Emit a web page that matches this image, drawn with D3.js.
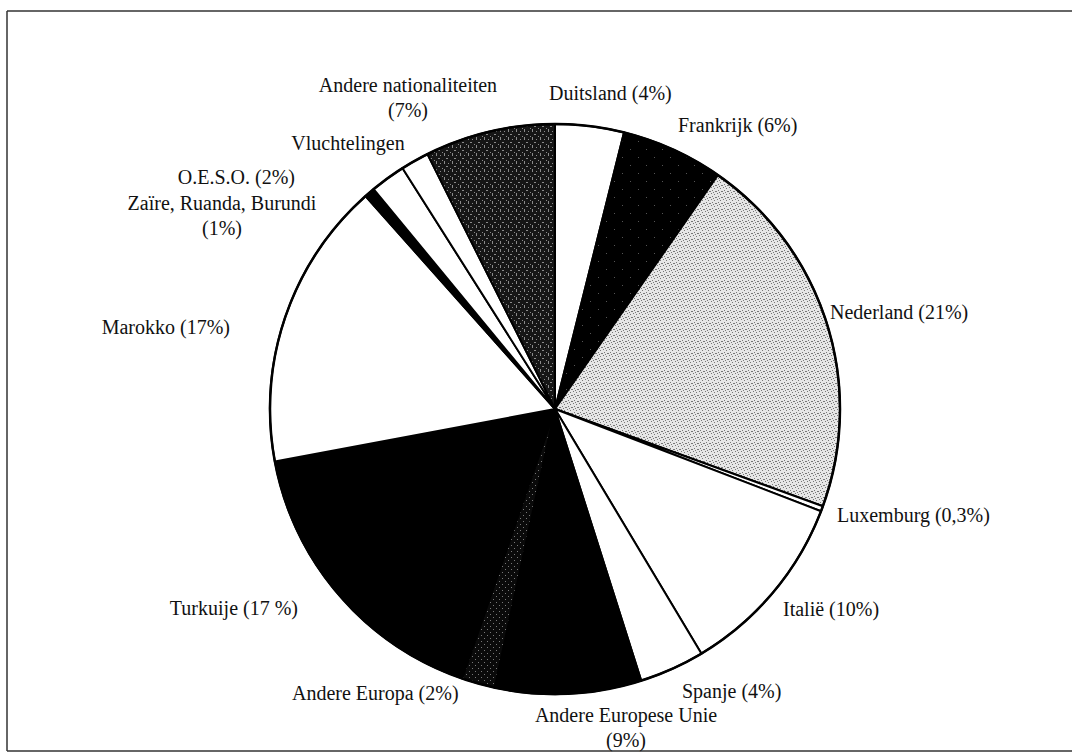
<!DOCTYPE html>
<html lang="nl">
<head>
<meta charset="utf-8">
<title>Nationaliteiten</title>
<style>
  body { margin: 0; background: #fff; }
  text { font-family: "Liberation Serif", "Times New Roman", serif; font-size: 20px; fill: #111; }
</style>
</head>
<body>
<div id="chart"></div>
<script src="https://cdn.jsdelivr.net/npm/d3@7"></script>
<script>

// slices, clockwise from 12 o'clock (shares, in %)
var categories = ["Duitsland", "Frankrijk", "Nederland", "Luxemburg", "Italië", "Spanje",
  "Andere Europese Unie", "Andere Europa", "Turkuije", "Marokko",
  "Zaïre, Ruanda, Burundi", "O.E.S.O.", "Vluchtelingen", "Andere nationaliteiten"];
var shares = [3.9, 5.8, 20.9, 0.3, 10.6, 3.7, 8.3, 1.9, 16.8, 16.4, 0.6, 2.0, 1.6, 7.4];
var fills = ["white", "frank", "ned", "white", "white", "white",
  "black", "aeur", "black", "white", "black", "white", "white", "anat"];

// label text, one entry per line
var labelLines = [
  ["Duitsland (4%)"], ["Frankrijk (6%)"], ["Nederland (21%)"], ["Luxemburg (0,3%)"],
  ["Italië (10%)"], ["Spanje (4%)"], ["Andere Europese Unie", "(9%)"], ["Andere Europa (2%)"],
  ["Turkuije (17 %)"], ["Marokko (17%)"], ["Zaïre, Ruanda, Burundi", "(1%)"],
  ["O.E.S.O. (2%)"], ["Vluchtelingen"], ["Andere nationaliteiten", "(7%)"]
];

var width = 1072, height = 755;
var cx = 555, cy = 409, radius = 285;

var svg = d3.select("#chart")
  .append("svg")
    .attr("width", width)
    .attr("height", height);

// textures like the scanned print
var defs = svg.append("defs");
function pattern(id, bg, dot, size, dots) {
  var p = defs.append("pattern")
    .attr("id", id)
    .attr("patternUnits", "userSpaceOnUse")
    .attr("width", size).attr("height", size);
  p.append("rect").attr("width", size).attr("height", size).attr("fill", bg);
  dots.forEach(function(d) {
    p.append("rect").attr("x", d[0]).attr("y", d[1])
      .attr("width", d[2] || 1).attr("height", d[3] || 1).attr("fill", dot);
  });
}
pattern("ned", "#e6e6e6", "#777", 6, [[0,0],[3,1],[1,3],[4,4,2,1],[2,5]]);
pattern("anat", "#161616", "#8a8a8a", 8, [[1,0,1,3],[5,2],[3,5,2,1],[7,7]]);
pattern("frank", "#000", "#555", 16, [[3,4],[11,12]]);
pattern("aeur", "#0a0a0a", "#777", 6, [[1,1],[4,4]]);

function fillOf(f) {
  return (f == "white" || f == "black") ? f : "url(#" + f + ")";
}

// frame
var frame = svg.append("g")
  .attr("stroke", "#333")
  .attr("stroke-width", 1.5);
frame.append("line").attr("x1", 7).attr("y1", 11).attr("x2", width).attr("y2", 11);
frame.append("line").attr("x1", 7).attr("y1", 11).attr("x2", 7).attr("y2", 751);
frame.append("line").attr("x1", 7).attr("y1", 751).attr("x2", width).attr("y2", 751);

var pie = d3.pie().sort(null).value(function(d) { return d; });
var arcs = pie(shares);

var arc = d3.arc().innerRadius(0).outerRadius(radius);

var g = svg.append("g")
  .attr("transform", "translate(" + cx + "," + cy + ")");

g.selectAll("path.slice")
  .data(arcs)
  .enter().append("path")
    .attr("class", "slice")
    .attr("d", arc)
    .attr("fill", function(d, i) { return fillOf(fills[i]); })
    .attr("stroke", "#000")
    .attr("stroke-width", 2)
    .attr("stroke-linejoin", "round");

g.append("circle")
  .attr("r", radius)
  .attr("fill", "none")
  .attr("stroke", "#000")
  .attr("stroke-width", 2.5);

// label anchors: [x, baseline, text-anchor] as placed in the original
var labelPos = [
  [549, 100, "start"], [678, 132, "start"], [830, 319, "start"], [837, 522, "start"],
  [783, 616, "start"], [682, 698, "start"], [626, 722, "middle"], [292, 700, "start"],
  [298, 615, "end"], [230, 334, "end"], [222, 210, "middle"], [295, 184, "end"],
  [348, 150, "middle"], [408, 92, "middle"]
];

var labels = svg.append("g");
labelLines.forEach(function(lines, i) {
  var p = labelPos[i];
  var t = labels.append("text")
    .attr("x", p[0])
    .attr("y", p[1])
    .attr("text-anchor", p[2]);
  lines.forEach(function(line, j) {
    t.append("tspan")
      .attr("x", p[0])
      .attr("dy", j == 0 ? 0 : 25)
      .attr("text-anchor", j == 0 ? p[2] : "middle")
      .text(line);
  });
});

</script>
</body>
</html>
